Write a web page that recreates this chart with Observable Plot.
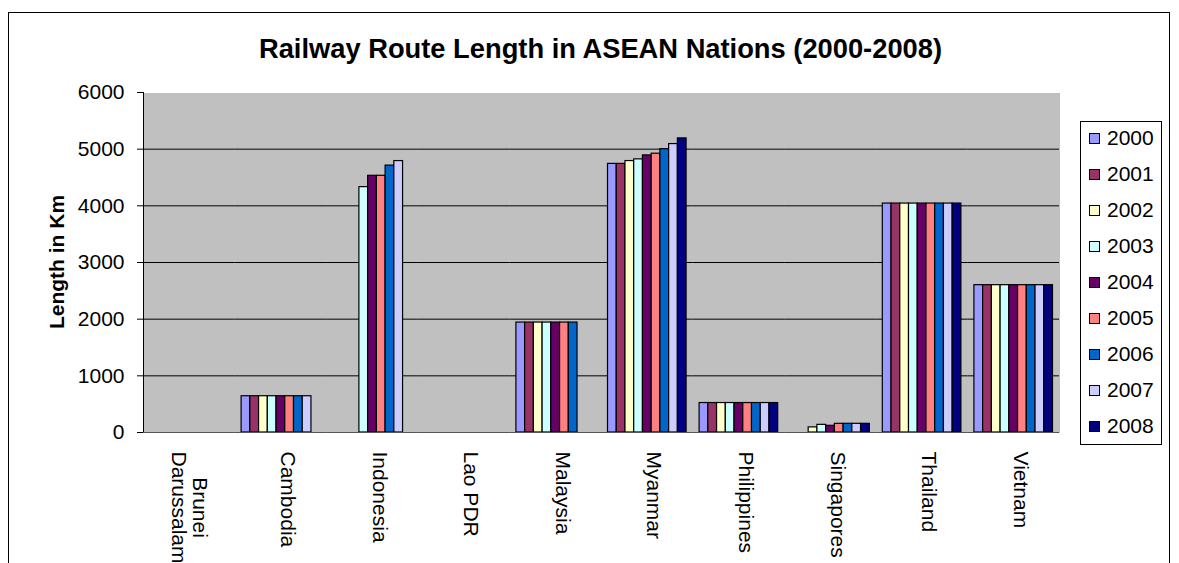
<!DOCTYPE html>
<html>
<head>
<meta charset="utf-8">
<script src="https://cdn.jsdelivr.net/npm/d3@7"></script>
<script src="https://cdn.jsdelivr.net/npm/@observablehq/plot@0.6"></script>
<style>
  html, body { margin: 0; padding: 0; background: #fff; }
  #wrap { position: relative; width: 1179px; height: 563px; overflow: hidden; font-family: Arial, "Liberation Sans", sans-serif; }
  #border { position: absolute; left: 8px; top: 12px; width: 1162px; height: 620px; border: 1px solid #000; box-sizing: border-box; }
  #title { position: absolute; left: 0; top: 34px; width: 1201px; text-align: center; font-weight: bold; font-size: 27.3px; line-height: 30px; color: #000; }
  #ylabel { position: absolute; left: 57px; top: 262px; transform: translate(-50%, -50%) rotate(-90deg); font-weight: bold; font-size: 21px; white-space: nowrap; }
  #chart { position: absolute; left: 0; top: 0; }
  #legend { position: absolute; left: 1080px; top: 121px; width: 82px; height: 324px; border: 1px solid #000; box-sizing: border-box; background: #fff; padding-top: 0; }
  .item { display: flex; align-items: center; height: 36px; font-size: 21px; }
  .item:first-child { margin-top: -2px; }
  .sw { width: 9px; height: 9px; border: 1px solid #000; margin-left: 8px; margin-right: 7px; }
</style>
</head>
<body>
<div id="wrap">
  <div id="border"></div>
  <div id="chart"></div>
  <div id="title"></div>
  <div id="ylabel"></div>
  <div id="legend"></div>
</div>
<script>
// ---- data ----
const titleText = "Railway Route Length in ASEAN Nations (2000-2008)";
const yLabelText = "Length in Km";
const countries = ["Brunei Darussalam", "Cambodia", "Indonesia", "Lao PDR", "Malaysia", "Myanmar", "Philippines", "Singapores", "Thailand", "Vietnam"];
const countryLabels = ["Brunei\nDarussalam", "Cambodia", "Indonesia", "Lao PDR", "Malaysia", "Myanmar", "Philippines", "Singapores", "Thailand", "Vietnam"];
const years = ["2000", "2001", "2002", "2003", "2004", "2005", "2006", "2007", "2008"];
const yearColors = ["#9999FF", "#993366", "#FFFFCC", "#CCFFFF", "#660066", "#FF8080", "#0066CC", "#CCCCFF", "#000080"];
const yTicks = [0, 1000, 2000, 3000, 4000, 5000, 6000];
// values per year, in the order of `countries` (null = no bar)
const v2000 = [null, 640, null, null, 1940, 4740, 520, null, 4040, 2600];
const v2001 = [null, 640, null, null, 1940, 4740, 520, null, 4040, 2600];
const v2002 = [null, 640, null, null, 1940, 4790, 520, 90, 4040, 2600];
const v2003 = [null, 640, 4330, null, 1940, 4820, 520, 135, 4040, 2600];
const v2004 = [null, 640, 4530, null, 1940, 4890, 520, 118, 4040, 2600];
const v2005 = [null, 640, 4530, null, 1940, 4920, 520, 153, 4040, 2600];
const v2006 = [null, 640, 4710, null, 1940, 5000, 520, 153, 4040, 2600];
const v2007 = [null, 640, 4790, null, null, 5090, 520, 153, 4040, 2600];
const v2008 = [null, null, null, null, null, 5190, 520, 153, 4040, 2600];
const series = [v2000, v2001, v2002, v2003, v2004, v2005, v2006, v2007, v2008];

// ---- table ----
const rows = [];
years.forEach((yr, j) => {
  countries.forEach((c, i) => {
    const v = series[j][i];
    if (v != null) rows.push({country: c, year: yr, value: v});
  });
});

const W = 1179, H = 563;
const mL = 143, mR = 120, mT = 92, mB = 131;
const facetW = (W - mL - mR) / countries.length;
const fontFam = "Arial, 'Liberation Sans', sans-serif";

// measure for centered two-line label
const cv = document.createElement("canvas").getContext("2d");
cv.font = "21px Arial, 'Liberation Sans', sans-serif";
const labelGap = 19;
const multi = countries.filter((c, i) => countryLabels[i].includes("\n"));
const single = countries.filter((c, i) => !countryLabels[i].includes("\n"));
const labelOf = c => countryLabels[countries.indexOf(c)];
const longest = s => Math.max(...s.split("\n").map(t => cv.measureText(t).width));

const marks = [
  Plot.frame({fill: "#C0C0C0", stroke: "none", shapeRendering: "crispEdges"}),
  Plot.ruleY(yTicks.filter(t => t > 0 && t < 6000), {stroke: "#000", strokeWidth: 1}),
  Plot.barY(rows, {fx: "country", x: "year", y: "value", fill: "year", stroke: "#000", strokeWidth: 1.2}),
  Plot.ruleY([0], {stroke: "#555", strokeWidth: 1.2}),
  Plot.ruleX(countries, {fx: d => d, y1: () => 0, y2: () => 0, insetBottom: -5, dx: -facetW / 2, stroke: "#444"}),
  Plot.ruleX([countries[countries.length - 1]], {fx: d => d, y1: () => 0, y2: () => 0, insetBottom: -5, dx: facetW / 2, stroke: "#444"}),
  Plot.text(single, {fx: d => d, text: d => labelOf(d), frameAnchor: "bottom", rotate: 90, textAnchor: "start", dy: labelGap, fontSize: 21, fill: "#000"}),
  ...multi.map(c => Plot.text([c], {fx: d => d, text: d => labelOf(d), frameAnchor: "bottom", rotate: 90, textAnchor: "middle", lineAnchor: "middle", dy: labelGap + longest(labelOf(c)) / 2, fontSize: 21, fill: "#000"}))
];

const chart = Plot.plot({
  width: W, height: H,
  marginLeft: mL, marginRight: mR, marginTop: mT, marginBottom: mB,
  style: {fontFamily: fontFam, fontSize: "21px", color: "#000", background: "transparent", overflow: "visible"},
  fx: {domain: countries, padding: 0, axis: null, round: false},
  x: {domain: years, paddingInner: 0, paddingOuter: 0.745, round: false, axis: null},
  y: {domain: [0, 6000], ticks: yTicks, tickSize: 6, tickPadding: 13, label: null, line: true, tickFormat: d => String(d)},
  color: {domain: years, range: yearColors},
  marks
});
document.getElementById("chart").appendChild(chart);

document.getElementById("title").textContent = titleText;
document.getElementById("ylabel").textContent = yLabelText;
const leg = document.getElementById("legend");
years.forEach((yr, i) => {
  const it = document.createElement("div");
  it.className = "item";
  const sw = document.createElement("div");
  sw.className = "sw";
  sw.style.background = yearColors[i];
  const t = document.createElement("span");
  t.textContent = yr;
  it.appendChild(sw); it.appendChild(t);
  leg.appendChild(it);
});
</script>
</body>
</html>
